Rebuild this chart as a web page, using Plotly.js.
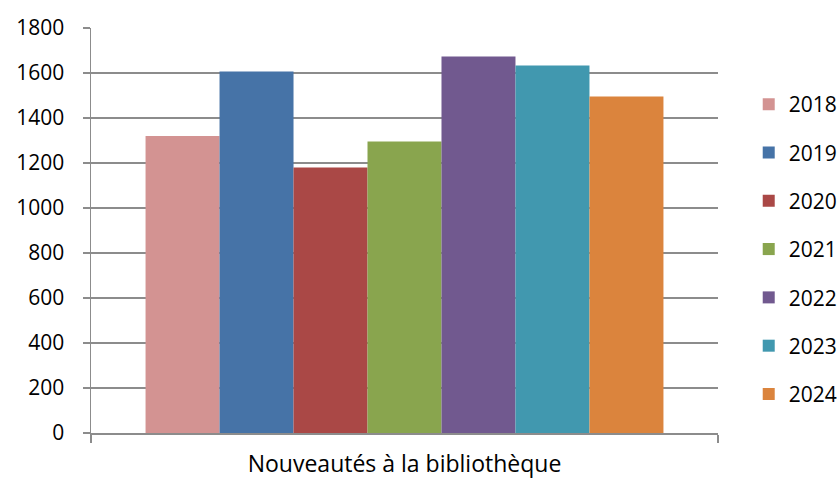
<!DOCTYPE html>
<html>
<head>
<meta charset="utf-8">
<script src="https://cdn.plot.ly/plotly-3.0.1.min.js"></script>
<style>html,body{margin:0;padding:0;background:#fff;}#chart{width:838px;height:480px;}</style>
</head>
<body>
<div id="chart"></div>
<script>
const category = ["Nouveautés à la bibliothèque"];
const years = ["2018", "2019", "2020", "2021", "2022", "2023", "2024"];
const values = [1320, 1607, 1180, 1296, 1673, 1633, 1496];
const colors = ["#D39392", "#4673A7", "#AA4846", "#89A54E", "#71598F", "#4198AF", "#DB843D"];
const yTicks = [0, 200, 400, 600, 800, 1000, 1200, 1400, 1600, 1800];

const FONT = "'Open Sans', Lato, sans-serif";

const traces = years.map((y, i) => ({
  type: "bar",
  name: y,
  x: category,
  y: [values[i]],
  marker: {color: colors[i], line: {width: 0}},
  legendgroup: "g" + i,
  hoverinfo: "name+y"
}));

const layout = {
  width: 838,
  height: 480,
  margin: {l: 91, r: 120, t: 28, b: 46.5, pad: 0, autoexpand: false},
  paper_bgcolor: "#ffffff",
  plot_bgcolor: "#ffffff",
  font: {family: FONT, size: 21, color: "#000000"},
  barmode: "group",
  bargap: 0.174,
  bargroupgap: 0,
  showlegend: true,
  legend: {
    x: 1.049, xanchor: "left",
    y: 0.453, yanchor: "middle",
    font: {family: FONT, size: 21, color: "#000"},
    tracegroupgap: 18,
    itemwidth: 30,
    bgcolor: "rgba(0,0,0,0)"
  },
  xaxis: {
    type: "category",
    showline: true,
    linecolor: "#8c8c8c",
    linewidth: 1.5,
    ticks: "outside",
    tickson: "boundaries",
    ticklen: 8,
    tickcolor: "#8c8c8c",
    tickwidth: 1.5,
    ticklabelstandoff: 10,
    showgrid: false,
    tickfont: {family: FONT, size: 23, color: "#000"},
    fixedrange: true
  },
  yaxis: {
    range: [0, 1800],
    tickvals: yTicks,
    ticktext: yTicks.map(String),
    showline: true,
    linecolor: "#8c8c8c",
    linewidth: 1.5,
    ticks: "outside",
    ticklen: 7,
    tickcolor: "#8c8c8c",
    tickwidth: 1.5,
    ticklabelstandoff: 14,
    showgrid: true,
    gridcolor: "#8c8c8c",
    gridwidth: 1.5,
    zeroline: false,
    tickfont: {family: FONT, size: 21, color: "#000"},
    fixedrange: true
  }
};

Plotly.newPlot("chart", traces, layout, {displayModeBar: false, staticPlot: true});
</script>
</body>
</html>
